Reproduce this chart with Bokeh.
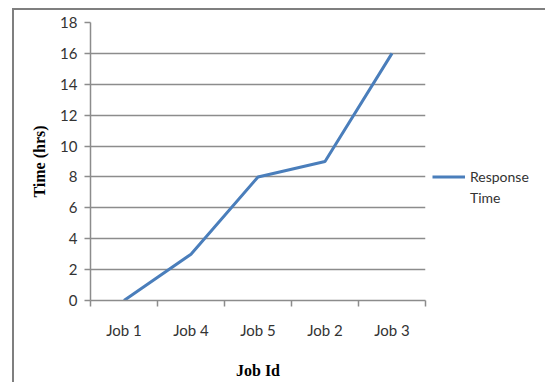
from bokeh.plotting import figure
from bokeh.models import Range1d, FixedTicker, Legend, LegendItem
from bokeh.embed import file_html
from bokeh.resources import INLINE

jobs = ["Job 1", "Job 4", "Job 5", "Job 2", "Job 3"]
response_time = [0, 3, 8, 9, 16]
y_ticks = [0, 2, 4, 6, 8, 10, 12, 14, 16, 18]
legend_lines = ["Response", "Time"]

xs = [i + 0.5 for i in range(len(jobs))]

p = figure(frame_width=335, frame_height=278, output_backend="svg", toolbar_location=None,
           x_range=Range1d(0, len(jobs)), y_range=Range1d(0, 18),
           min_border_left=76, min_border_right=120, min_border_top=12, min_border_bottom=82,
           margin=(8, 0, 0, 12))
p.styles = {"border-left": "2px solid #7f7f7f", "border-top": "2px solid #7f7f7f"}
p.background_fill_color = "white"
p.border_fill_color = "white"
p.outline_line_color = None

grid_color = "#8c8c8c"
r = p.line(xs, response_time, line_color="#4a7ebb", line_width=3)
# transparent twin, only used to give the legend its second text line
r2 = p.line(xs, response_time, line_alpha=0)

# x axis
p.xaxis.ticker = FixedTicker(ticks=xs, minor_ticks=list(range(len(jobs) + 1)))
p.xaxis.major_label_overrides = {x: j for x, j in zip(xs, jobs)}
p.xaxis.major_tick_out = 0
p.xaxis.major_tick_in = 0
p.xaxis.minor_tick_out = 6
p.xaxis.minor_tick_in = 0
p.xaxis.minor_tick_line_color = grid_color
p.xaxis.minor_tick_line_width = 1.5
p.xaxis.axis_line_color = grid_color
p.xaxis.axis_line_width = 1.5
p.xaxis.major_label_standoff = 14
p.xaxis.axis_label = "Job Id"
p.xaxis.axis_label_standoff = 20
p.xgrid.visible = False

# y axis
p.yaxis.ticker = FixedTicker(ticks=y_ticks, minor_ticks=[])
p.yaxis.major_tick_out = 6
p.yaxis.major_tick_in = 0
p.yaxis.major_tick_line_color = grid_color
p.yaxis.major_tick_line_width = 1.5
p.yaxis.axis_line_color = grid_color
p.yaxis.axis_line_width = 1.5
p.yaxis.major_label_standoff = 7
p.yaxis.axis_label = "Time (hrs)"
p.yaxis.axis_label_standoff = 9
p.ygrid.grid_line_color = grid_color
p.ygrid.grid_line_width = 1.5

for ax in (p.xaxis[0], p.yaxis[0]):
    ax.major_label_text_font = "Lato"
    ax.major_label_text_font_size = "15px"
    ax.major_label_text_color = "#333333"
    ax.axis_label_text_font = "Liberation Serif"
    ax.axis_label_text_font_style = "bold"
    ax.axis_label_text_font_size = "16px"
    ax.axis_label_text_color = "black"

legend = Legend(items=[LegendItem(label=legend_lines[0], renderers=[r]),
                       LegendItem(label=legend_lines[1], renderers=[r2])],
                location=(7, 92), padding=0, margin=0, spacing=0,
                glyph_width=33, glyph_height=21, label_standoff=5,
                label_height=21,
                border_line_color=None, background_fill_alpha=0,
                label_text_font="Lato", label_text_font_size="14px",
                label_text_color="#333333")
p.add_layout(legend, "right")

open("out.html", "w").write(file_html(p, INLINE))
